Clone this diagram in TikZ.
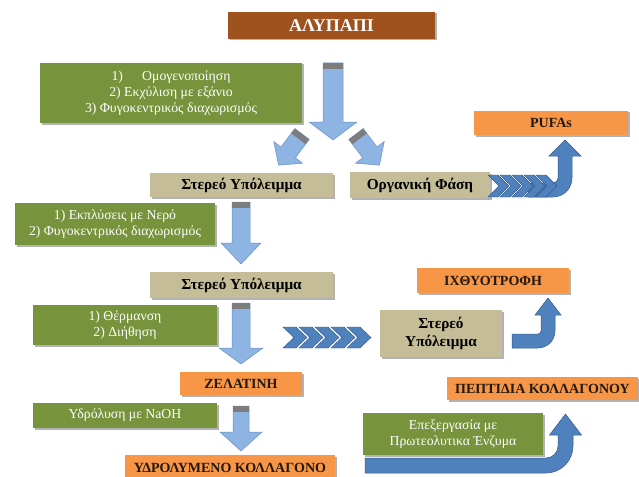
\documentclass[tikz,border=0pt]{standalone}
\usepackage{fontspec}
\setmainfont{Liberation Serif}
\usetikzlibrary{shadows}
\definecolor{brownbox}{RGB}{160,82,30}
\definecolor{greenbox}{RGB}{119,147,60}
\definecolor{tanbox}{RGB}{196,189,151}
\definecolor{orangebox}{RGB}{247,150,70}
\definecolor{lightarrow}{RGB}{142,180,227}
\definecolor{lightedge}{RGB}{105,145,198}
\definecolor{bandgray}{RGB}{125,125,125}
\definecolor{darkarrow}{RGB}{79,129,189}
\definecolor{darkedge}{RGB}{52,90,140}
\definecolor{boxtext}{RGB}{35,25,15}
\newcommand\lbarrow[7]{% x, y, angle, length, shaft half, head half, head length
  \begin{scope}[shift={(#1,#2)},rotate=#3]
    \filldraw[fill=lightarrow,draw=lightedge,line width=0.5pt]
      (-#5,0) -- (#5,0) -- (#5,{#4-#7}) -- (#6,{#4-#7}) -- (0,#4)
      -- (-#6,{#4-#7}) -- (-#5,{#4-#7}) -- cycle;
    \fill[bandgray] (-#5,0) rectangle (#5,6);
  \end{scope}}
\newcommand\chev[5]{% x, ytop, ybot, thickness, depth
  \filldraw[fill=darkarrow,draw=darkedge,line width=0.4pt]
    (#1,#2) -- ({#1+#4},#2) -- ({#1+#4+#5},{(#2+#3)/2}) -- ({#1+#4},#3)
    -- (#1,#3) -- ({#1+#5},{(#2+#3)/2}) -- cycle;}
\begin{document}
\begin{tikzpicture}[x=1pt,y=-1pt,
  box/.style={inner sep=0pt, align=center,
    drop shadow={shadow xshift=1.5pt, shadow yshift=-1.5pt, opacity=0.3, fill=black}},
  topbox/.style={box, fill=brownbox, text=white, font=\fontsize{18}{20}\selectfont\bfseries},
  greenstep/.style={box, fill=greenbox, text=white, font=\fontsize{13.75}{16}\selectfont},
  tanstep/.style={box, fill=tanbox, text=black, font=\fontsize{15.25}{18}\selectfont\bfseries},
  orangestep/.style={box, fill=orangebox, text=boxtext, font=\fontsize{14}{16}\selectfont\bfseries},
  bentarrow/.style={fill=darkarrow, draw=darkedge, line width=0.5pt}]
\fill[white] (0,0) rectangle (639,476);
\useasboundingbox (0,0) rectangle (639,476);

% nodes
\node[topbox, minimum width=207pt, minimum height=27pt] (top) at (331.5,25.5) {ΑΛΥΠΑΠΙ};
\node[greenstep, minimum width=262pt, minimum height=60pt] (g1) at (171,93)
  {1)\hspace{1.4em}Ομογενοποίηση\\2) Εκχύλιση με εξάνιο\\3) Φυγοκεντρικός διαχωρισμός};
\node[orangestep, minimum width=154pt, minimum height=24pt] (pufa) at (551,123) {PUFAs};
\node[tanstep, minimum width=183pt, minimum height=24pt] (s1) at (241.5,185) {Στερεό Υπόλειμμα};
\node[tanstep, minimum width=140pt, minimum height=26pt] (org) at (420,185) {Οργανική Φάση};
\node[greenstep, minimum width=200pt, minimum height=42pt] (g2) at (115,224)
  {1) Εκπλύσεις με Νερό\\2) Φυγοκεντρικός διαχωρισμός};
\node[tanstep, minimum width=183pt, minimum height=26pt] (s2) at (241.5,285) {Στερεό Υπόλειμμα};
\node[orangestep, minimum width=152pt, minimum height=25pt] (ich) at (493,280.5) {ΙΧΘΥΟΤΡΟΦΗ};
\node[greenstep, minimum width=184pt, minimum height=40pt] (g3) at (125,325)
  {1) Θέρμανση\\2) Διήθηση};
\node[tanstep, minimum width=122pt, minimum height=47pt] (s3) at (441,333.5) {Στερεό\\Υπόλειμμα};
\node[orangestep, minimum width=122pt, minimum height=23pt] (zel) at (241,383.5) {ΖΕΛΑΤΙΝΗ};
\node[orangestep, minimum width=191pt, minimum height=23pt] (pep) at (542.5,388.5) {ΠΕΠΤΙΔΙΑ ΚΟΛΛΑΓΟΝΟΥ};
\node[greenstep, minimum width=184pt, minimum height=25pt] (g4) at (125,415.5) {Υδρόλυση με NaOH};
\node[greenstep, minimum width=180pt, minimum height=42pt] (g5) at (453,434)
  {Επεξεργασία με\\Πρωτεολυτικα Ένζυμα};
\node[orangestep, minimum width=210pt, minimum height=26pt] (hyd) at (230,468) {ΥΔΡΟΛΥΜΕΝΟ ΚΟΛΛΑΓΟΝΟ};

% light blue block arrows
\lbarrow{333}{63}{0}{77}{10}{24}{18}
\lbarrow{302}{134}{-37}{39}{9}{18}{16}
\lbarrow{356}{134}{37}{39}{9}{18}{16}
\lbarrow{241}{202}{0}{62}{9}{20}{21}
\lbarrow{241}{303}{0}{61}{9}{22}{16}
\lbarrow{241}{406}{0}{45}{8}{21}{19}

% dark blue bent arrows
\filldraw[bentarrow] (528,183) -- (553,183) .. controls (555.76,183) and (558,180.76) .. (558,178)
  -- (558,156) -- (549,156) -- (565,140) -- (581,156) -- (572,156) -- (572,178)
  .. controls (572,188.49) and (563.49,197) .. (553,197) -- (528,197) -- cycle;
\foreach \i in {0,...,4} {\chev{488+12*\i}{175}{197}{10}{11}}

\foreach \i in {0,...,4} {\chev{283+16*\i}{327}{348}{13}{11}}
\filldraw[bentarrow] (512,334) -- (538,334) .. controls (539.66,334) and (541,332.66) .. (541,331)
  -- (541,315) -- (535,315) -- (548,298) -- (561,315) -- (555,315) -- (555,331)
  .. controls (555,340.39) and (547.39,348) .. (538,348) -- (512,348) -- cycle;

\filldraw[bentarrow] (365,458) -- (546,458) .. controls (552.62,458) and (558,452.62) .. (558,446)
  -- (558,435) -- (549.5,435) -- (565.5,414) -- (581.5,435) -- (573,435) -- (573,446)
  .. controls (573,460.91) and (560.91,473) .. (546,473) -- (365,473) -- cycle;
\end{tikzpicture}
\end{document}
